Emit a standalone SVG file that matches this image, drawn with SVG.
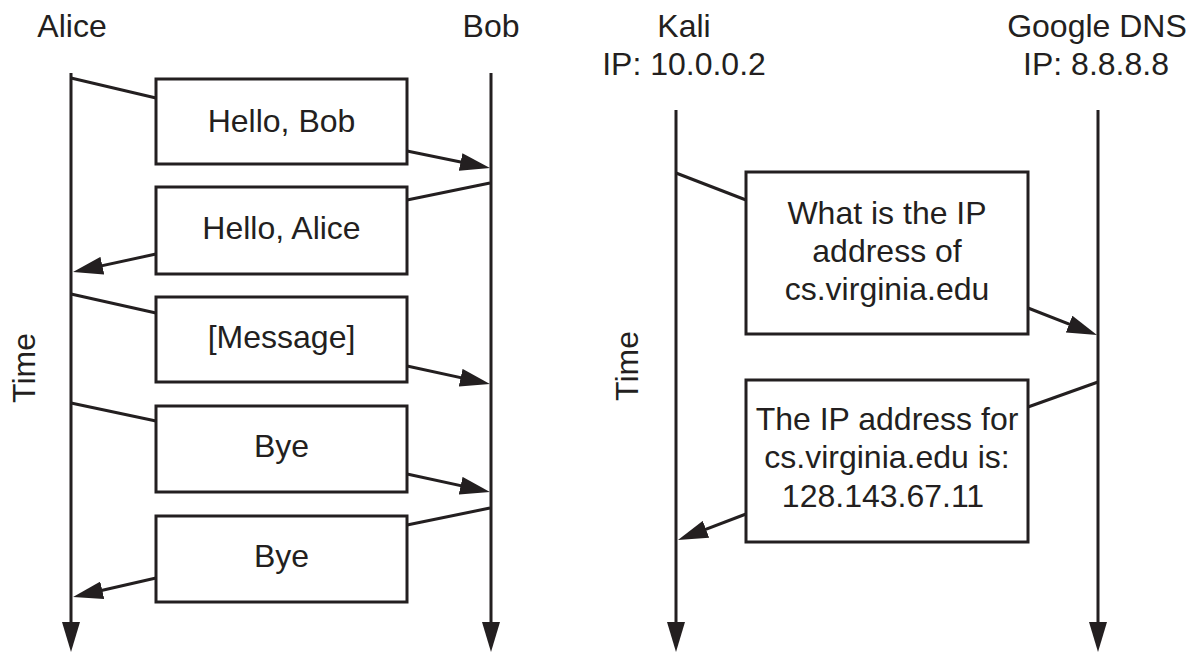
<svg xmlns="http://www.w3.org/2000/svg" width="1196" height="653" viewBox="0 0 1196 653">
<style>
text{font-family:"Liberation Sans",Arial,sans-serif;font-size:32px;fill:#231f20;text-anchor:middle}
.box{fill:#fff;stroke:#231f20;stroke-width:3}
.ln{stroke:#231f20;stroke-width:3;fill:none}
.ar{marker-end:url(#ah)}
</style>
<defs>
<marker id="ah" viewBox="0 0 30 18" refX="20" refY="9" markerWidth="30" markerHeight="18" markerUnits="userSpaceOnUse" orient="auto">
<path d="M0,0 L30,9 L0,18 z" fill="#231f20"/>
</marker>
</defs>
<rect width="1196" height="653" fill="#fff"/>
<g id="alice"><text x="72" y="37">Alice</text></g>
<g id="bob"><text x="491" y="37">Bob</text></g>
<g id="kali"><text x="684" y="37">Kali</text><text x="684" y="75">IP: 10.0.0.2</text></g>
<g id="google"><text x="1097" y="37">Google DNS</text><text x="1096" y="75">IP: 8.8.8.8</text></g>
<g id="time1"><text x="35" y="368" transform="rotate(-90 35 368)">Time</text></g>
<g id="time2"><text x="638" y="366" transform="rotate(-90 638 366)">Time</text></g>
<g id="connectors">
<line class="ln ar" x1="71" y1="73" x2="71" y2="642"/>
<line class="ln ar" x1="491" y1="73" x2="491" y2="642"/>
<line class="ln ar" x1="676" y1="110" x2="676" y2="642"/>
<line class="ln ar" x1="1098" y1="110" x2="1098" y2="642"/>
<line class="ln" x1="71" y1="78" x2="156" y2="98"/>
<line class="ln ar" x1="407" y1="151" x2="480.2" y2="166"/>
<line class="ln" x1="490" y1="183" x2="407" y2="200"/>
<line class="ln ar" x1="156" y1="254" x2="82.8" y2="269.9"/>
<line class="ln" x1="71" y1="294" x2="156" y2="313"/>
<line class="ln ar" x1="407" y1="366" x2="480.2" y2="381.9"/>
<line class="ln" x1="71" y1="403" x2="156" y2="421"/>
<line class="ln ar" x1="407" y1="474" x2="480.2" y2="489.9"/>
<line class="ln" x1="490" y1="508" x2="407" y2="525"/>
<line class="ln ar" x1="156" y1="578" x2="82.8" y2="594.8"/>
<line class="ln" x1="676" y1="173" x2="746" y2="200"/>
<line class="ln ar" x1="1028" y1="308" x2="1087.7" y2="331.4"/>
<line class="ln" x1="1098" y1="382" x2="1028" y2="407"/>
<line class="ln ar" x1="746" y1="514" x2="687.3" y2="536.4"/>
</g>
<g id="m1"><rect class="box" x="156" y="79" width="251" height="85"/><text x="281.5" y="132">Hello, Bob</text></g>
<g id="m2"><rect class="box" x="156" y="187" width="251" height="87"/><text x="281.5" y="239">Hello, Alice</text></g>
<g id="m3"><rect class="box" x="156" y="297" width="251" height="85"/><text x="281.5" y="348">[Message]</text></g>
<g id="m4"><rect class="box" x="156" y="406" width="251" height="86"/><text x="281.5" y="457">Bye</text></g>
<g id="m5"><rect class="box" x="156" y="516" width="251" height="86"/><text x="281.5" y="567">Bye</text></g>
<g id="q"><rect class="box" x="746" y="172" width="282" height="162"/><text x="887" y="224">What is the IP</text><text x="887" y="262">address of</text><text x="887" y="300">cs.virginia.edu</text></g>
<g id="a"><rect class="box" x="746" y="380" width="282" height="162"/><text x="887" y="430">The IP address for</text><text x="887" y="468">cs.virginia.edu is:</text><text x="883" y="507">128.143.67.11</text></g>
</svg>
